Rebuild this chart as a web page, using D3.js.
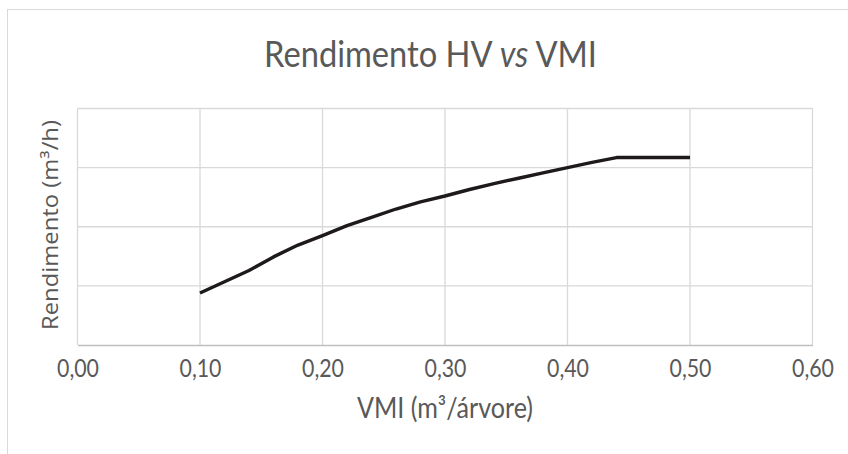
<!DOCTYPE html>
<html>
<head>
<meta charset="utf-8">
<script src="https://cdn.jsdelivr.net/npm/d3@7"></script>
<style>
  body { margin: 0; background: #fff; }
  text { fill: #595959; }
</style>
</head>
<body>
<div id="chart"></div>
<script>
// VMI (m3/arvore) and rendimento (m3/h)
var vmi = [0.10, 0.12, 0.14, 0.16, 0.18, 0.20, 0.22, 0.24, 0.26, 0.28, 0.30,
           0.32, 0.34, 0.36, 0.38, 0.40, 0.42, 0.44, 0.46, 0.48, 0.50];
var rendimento = [8.8, 10.7, 12.6, 14.9, 16.9, 18.5, 20.2, 21.6, 23.0, 24.2, 25.2,
                  26.3, 27.3, 28.2, 29.1, 30.0, 30.9, 31.7, 31.7, 31.7, 31.7];
var xTicks = [0, 0.1, 0.2, 0.3, 0.4, 0.5, 0.6];
var yTicks = [0, 10, 20, 30, 40];

var width = 848, height = 454;
var margin = {top: 108.5, right: 35.5, bottom: 109, left: 77.5};

var svg = d3.select("#chart").append("svg")
    .attr("width", width)
    .attr("height", height);

// chart area border
svg.append("rect")
    .attr("x", 7.5).attr("y", 9.5)
    .attr("width", 860).attr("height", 470)
    .attr("fill", "none")
    .attr("stroke", "#d9d9d9")
    .attr("stroke-width", 1);

var x = d3.scaleLinear()
    .domain([0, 0.6])
    .range([margin.left, width - margin.right]);

var y = d3.scaleLinear()
    .domain([0, 40])
    .range([height - margin.bottom, margin.top]);

var fmt = function(d){ return d3.format(".2f")(d).replace(".", ","); };

// gridlines
svg.append("g").selectAll("line")
    .data(yTicks.slice(1))
    .enter().append("line")
    .attr("x1", x(0)).attr("x2", x(0.6))
    .attr("y1", function(d){ return y(d); })
    .attr("y2", function(d){ return y(d); })
    .attr("stroke", "#d9d9d9").attr("stroke-width", 1.3);

svg.append("g").selectAll("line")
    .data(xTicks)
    .enter().append("line")
    .attr("x1", function(d){ return x(d); })
    .attr("x2", function(d){ return x(d); })
    .attr("y1", y(0)).attr("y2", y(40))
    .attr("stroke", "#d9d9d9").attr("stroke-width", 1.3);

// x axis
var xAxis = d3.axisBottom(x)
    .tickValues(xTicks)
    .tickFormat(fmt)
    .tickSize(0)
    .tickPadding(14);

var gx = svg.append("g")
    .attr("transform", "translate(0," + y(0) + ")")
    .call(xAxis);
gx.select(".domain").attr("stroke", "#bfbfbf").attr("stroke-width", 1.6);
gx.selectAll("text")
    .style("font-family", "Lato, sans-serif")
    .style("font-size", "25px")
    .attr("textLength", 42)
    .attr("lengthAdjust", "spacingAndGlyphs")
    .attr("fill", "#595959");

// line
var pts = vmi.map(function(v, i){ return [v, rendimento[i]]; });
var line = d3.line()
    .x(function(d){ return x(d[0]); })
    .y(function(d){ return y(d[1]); });

svg.append("path")
    .datum(pts)
    .attr("d", line)
    .attr("fill", "none")
    .attr("stroke", "#1e1a1b")
    .attr("stroke-width", 3.4)
    .attr("stroke-linejoin", "round");

// title, squeezed horizontally to get the narrow look
var title = svg.append("text")
    .attr("transform", "translate(430.5,67) scale(0.907,1)")
    .attr("text-anchor", "middle")
    .style("font-family", "Lato, sans-serif")
    .style("font-size", "36px");
title.append("tspan").text("Rendimento HV ");
title.append("tspan").style("font-style", "italic").text("vs");
title.append("tspan").text(" VMI");

svg.append("text")
    .attr("x", 445).attr("y", 418)
    .attr("text-anchor", "middle")
    .attr("textLength", 176)
    .attr("lengthAdjust", "spacingAndGlyphs")
    .style("font-family", "Lato, sans-serif")
    .style("font-size", "28px")
    .text("VMI (m³/árvore)");

svg.append("text")
    .attr("transform", "translate(58,225) rotate(-90)")
    .attr("text-anchor", "middle")
    .attr("textLength", 210)
    .attr("lengthAdjust", "spacingAndGlyphs")
    .style("font-family", "'Open Sans', sans-serif")
    .style("font-size", "21px")
    .text("Rendimento (m³/h)");
</script>
</body>
</html>
